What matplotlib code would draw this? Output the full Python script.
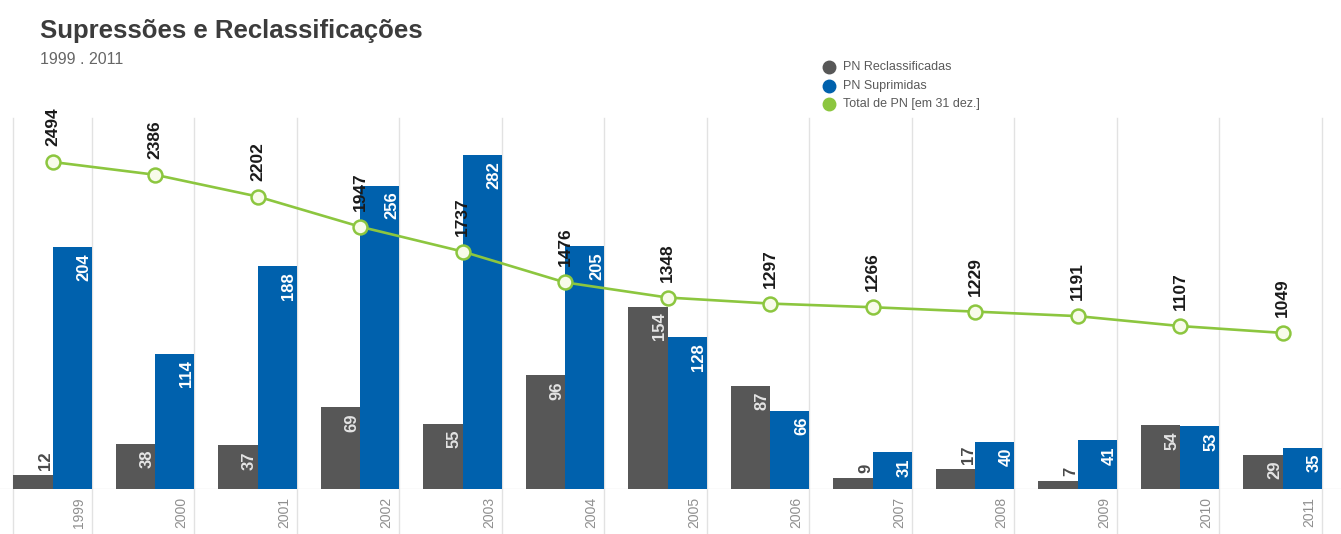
import numpy as np
import matplotlib
matplotlib.use("Agg")
import matplotlib.pyplot as plt
from matplotlib.lines import Line2D

years = ["1999", "2000", "2001", "2002", "2003", "2004", "2005",
         "2006", "2007", "2008", "2009", "2010", "2011"]
reclassificadas = [12, 38, 37, 69, 55, 96, 154, 87, 9, 17, 7, 54, 29]
suprimidas = [204, 114, 188, 256, 282, 205, 128, 66, 31, 40, 41, 53, 35]
total_pn = [2494, 2386, 2202, 1947, 1737, 1476, 1348, 1297, 1266, 1229, 1191, 1107, 1049]

GREY = "#575757"
BLUE = "#0061ad"
GREEN = "#8cc63f"
SANS = ["Liberation Sans", "DejaVu Sans"]

W, H = 1341, 534
fig = plt.figure(figsize=(W / 100, H / 100), dpi=100)
fig.patch.set_facecolor("white")

# axes in pixel terms: baseline at y=489, top at y=118
ax = fig.add_axes([0, (H - 489) / H, 1, (489 - 118) / H])
ax2 = ax.twinx()

x = np.arange(len(years))
w = 0.385
ax.set_xlim(-52.5 / 102.5, (W - 52.5) / 102.5)
ax.set_ylim(0, 313.1)
ax2.set_ylim(-270.5, 2865.6)
ax.axis("off")
ax2.axis("off")

# grid lines at the group boundaries
below = 45 / 371
for gx in [-w] + list(x + w):
    ax.axvline(gx, ymin=-below, ymax=1, color="#e2e2e2", lw=1, zorder=0, clip_on=False)
ax.axhline(0, color="#e6e6e6", lw=1, zorder=0)

ax.bar(x - w / 2, reclassificadas, w, color=GREY, zorder=2)
ax.bar(x + w / 2, suprimidas, w, color=BLUE, zorder=2)

for i in x:
    r = reclassificadas[i]
    if r < 20:
        ax.annotate(str(r), (i, r), xytext=(-7, 5), textcoords="offset pixels",
                    rotation=90, ha="center", va="bottom", fontsize=12,
                    fontweight="bold", color="#4a4a4a", family=SANS, zorder=3)
    else:
        ax.annotate(str(r), (i, r), xytext=(-8, -6), textcoords="offset pixels",
                    rotation=90, ha="center", va="top", fontsize=12,
                    fontweight="bold", color="#e4e4e4", family=SANS, zorder=3)
    s = suprimidas[i]
    ax.annotate(str(s), (i + w, s), xytext=(-8, -6), textcoords="offset pixels",
                rotation=90, ha="center", va="top", fontsize=12,
                fontweight="bold", color="white", family=SANS, zorder=3)
    ax.annotate(years[i], (i + w, 0), xytext=(-13, -8), textcoords="offset pixels",
                rotation=90, ha="center", va="top", fontsize=10,
                color="#8f8f8f", family=SANS, annotation_clip=False)

ax2.plot(x, total_pn, color=GREEN, lw=1.9, marker="o", markersize=10,
         markerfacecolor="#f8fbea", markeredgecolor=GREEN, markeredgewidth=1.8,
         zorder=4, clip_on=False)
for i in x:
    ax2.annotate(str(total_pn[i]), (i, total_pn[i]), xytext=(0, 16),
                 textcoords="offset pixels", rotation=90, ha="center", va="bottom",
                 fontsize=12.5, fontweight="bold", color="#1a1a1a", family=SANS)

# title
fig.text(40 / W, 1 - 38 / H, "Supressões e Reclassificações", fontsize=18.5,
         fontweight="bold", color="#3c3c3c", family=SANS, va="baseline")
fig.text(40 / W, 1 - 64 / H, "1999 . 2011", fontsize=11.5, color="#666666",
         family=SANS, va="baseline")

# legend
legend_items = [("PN Reclassificadas", GREY), ("PN Suprimidas", BLUE),
                ("Total de PN [em 31 dez.]", GREEN)]
for k, (label, col) in enumerate(legend_items):
    yy = 1 - (67 + 18.5 * k) / H
    fig.add_artist(Line2D([829 / W], [yy], marker="o", markersize=9,
                          color=col, transform=fig.transFigure))
    fig.text(843 / W, yy, label, fontsize=9, color="#5a5a5a", family=SANS,
             va="center")

fig.savefig("out.png", dpi=100)
